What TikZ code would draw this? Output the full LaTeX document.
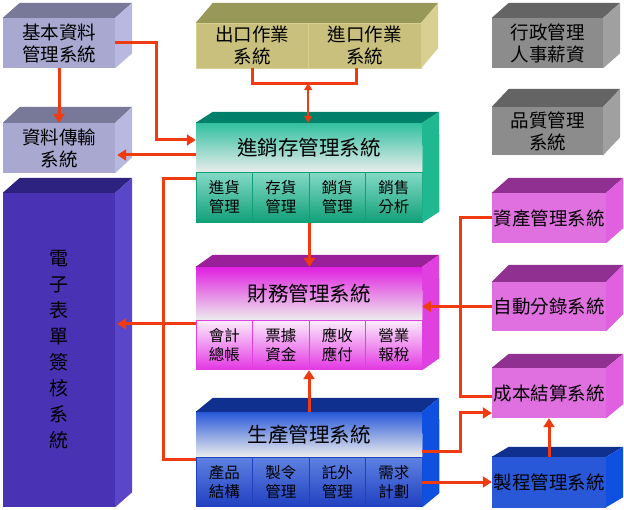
\documentclass[tikz,border=0pt]{standalone}
\usepackage{fontspec}
\setmainfont{Noto Sans CJK TC}
\usetikzlibrary{arrows.meta,calc}

\definecolor{linkred}{HTML}{F03A10}
\definecolor{lavfront}{HTML}{A8A8D0}
\definecolor{lavtop}{HTML}{787898}
\definecolor{lavside}{HTML}{B8B8E0}
\definecolor{khfront}{HTML}{C8C07C}
\definecolor{khtop}{HTML}{989858}
\definecolor{khside}{HTML}{D8D090}
\definecolor{gyfront}{HTML}{8C8C8C}
\definecolor{gytop}{HTML}{646464}
\definecolor{gyside}{HTML}{A0A0A0}
\definecolor{grmain}{HTML}{30C0A0}
\definecolor{grdark}{HTML}{10A078}
\definecolor{grtop}{HTML}{00806A}
\definecolor{grside}{HTML}{20B890}
\definecolor{mgmain}{HTML}{E020E0}
\definecolor{mgdark}{HTML}{D010D0}
\definecolor{mgtop}{HTML}{9A209A}
\definecolor{mgside}{HTML}{E040E0}
\definecolor{blmain}{HTML}{2858D8}
\definecolor{bldark}{HTML}{2040C0}
\definecolor{bltop}{HTML}{103090}
\definecolor{blside}{HTML}{1050E0}
\definecolor{pkmain}{HTML}{E070E0}
\definecolor{pktop}{HTML}{903090}
\definecolor{pkside}{HTML}{E060E0}
\definecolor{dzfront}{HTML}{4A32B4}
\definecolor{dztop}{HTML}{2E2280}
\definecolor{dzside}{HTML}{5A46C8}

\tikzset{
  block/.style={inner sep=0pt, align=center, text=black,
    font=\fontsize{18.5}{22}\selectfont},
  title/.style={block, minimum width=226pt, font=\fontsize{20.5}{24}\selectfont},
  cell/.style={block, minimum width=56.5pt, minimum height=49.5pt, line width=0.8pt,
    font=\fontsize{15.5}{19}\selectfont},
  link/.style={draw=linkred, line width=3pt},
  arr/.style={link, -{Triangle[length=9pt,width=11pt]}}
}

\begin{document}
\begin{tikzpicture}[x=1pt,y=-1pt]
  \useasboundingbox[fill=white] (0,0) rectangle (624,510);

  % left column
  \node[block, fill=lavfront, minimum width=112pt, minimum height=50pt] (jb) at (59,43) {基本資料\\管理系統};
  \node[block, fill=lavfront, minimum width=112pt, minimum height=50pt] (zl) at (59,148) {資料傳輸\\系統};
  \node[block, fill=dzfront, minimum width=112pt, minimum height=314pt,
        font=\fontsize{19}{26}\selectfont] (dz) at (59,350) {電\\子\\表\\單\\簽\\核\\系\\統};

  % top middle
  \node[block, fill=khfront, draw=khside, minimum width=112pt, minimum height=45pt] (ck) at (252,45.5) {出口作業\\系統};
  \node[block, fill=khfront, draw=khside, minimum width=113pt, minimum height=45pt] (jk) at (364.5,45.5) {進口作業\\系統};

  % right column
  \node[block, fill=gyfront, minimum width=111pt, minimum height=50pt] (xz) at (547.5,43) {行政管理\\人事薪資};
  \node[block, fill=gyfront, minimum width=111pt, minimum height=48pt] (pz) at (547.5,131) {品質管理\\系統};
  \node[block, top color=pkmain, middle color=white, bottom color=pkmain, minimum width=114pt, minimum height=50pt] (zc) at (549,218) {資產管理系統};
  \node[block, top color=pkmain, middle color=white, bottom color=pkmain, minimum width=114pt, minimum height=49pt] (zd) at (549,306.5) {自動分錄系統};
  \node[block, top color=pkmain, middle color=white, bottom color=pkmain, minimum width=114pt, minimum height=50pt] (cb) at (549,393) {成本結算系統};
  \node[block, top color=blmain, middle color=white!85!blmain, bottom color=blmain, minimum width=114pt, minimum height=50pt] (zcg) at (549,482) {製程管理系統};

  % centre systems
  \node[title, top color=grmain, middle color=white, bottom color=black!7, minimum height=50pt] (jxc) at (309,148) {進銷存管理系統};
  \foreach \i/\txt in {1/{進貨\\管理},2/{存貨\\管理},3/{銷貨\\管理},4/{銷售\\分析}}
    \node[cell, draw=grdark, top color=grmain!60, middle color=grmain!8, bottom color=grdark] (j\i) at ({196+56.5*(\i-0.5)},197.5) {\txt};

  \node[title, top color=mgmain, middle color=white, bottom color=black!7, minimum height=53pt] (cw) at (309,293.5) {財務管理系統};
  \foreach \i/\txt in {1/{會計\\總帳},2/{票據\\資金},3/{應收\\應付},4/{營業\\報稅}}
    \node[cell, draw=mgside, top color=mgmain!8, middle color=mgmain!22, bottom color=mgmain!90] (c\i) at ({196+56.5*(\i-0.5)},345) {\txt};

  \node[title, top color=blmain, middle color=white, bottom color=black!7, minimum height=45pt] (sc) at (309,434.5) {生產管理系統};
  \foreach \i/\txt in {1/{產品\\結構},2/{製令\\管理},3/{託外\\管理},4/{需求\\計劃}}
    \node[cell, draw=bldark, top color=blmain!75, middle color=blmain!12, bottom color=bldark] (s\i) at ({196+56.5*(\i-0.5)},482) {\txt};

  % top and side faces
  \foreach \a/\b/\c/\d/\tc/\sc in {jb/jb/jb/15/lavtop/lavside, zl/zl/zl/16/lavtop/lavside,
      dz/dz/dz/15/dztop/dzside, ck/jk/jk/20/khtop/khside,
      xz/xz/xz/15/gytop/gyside, pz/pz/pz/18/gytop/gyside,
      zc/zc/zc/15/pktop/pkside, zd/zd/zd/17/pktop/pkside,
      cb/cb/cb/14/pktop/pkside, zcg/zcg/zcg/10/bltop/blside,
      jxc/jxc/j4/11/grtop/grside, cw/cw/c4/12/mgtop/mgside, sc/sc/s4/14/bltop/blside}
  {
    \fill[\tc] (\a.north west) -- ++(17,-\d) -- ($(\b.north east)+(17,-\d)$) -- (\b.north east) -- cycle;
    \fill[\sc] (\b.north east) -- ++(17,-\d) -- ($(\c.south east)+(17,-\d)$) -- (\c.south east) -- cycle;
  }

  % connectors
  \draw[arr] (jb.south) -- (zl.north);
  \draw[arr] (jb.east) -- ++(41,0) |- ($(jxc.west)+(0,-8)$);
  \draw[arr] ($(jxc.west)+(0,7)$) -- ($(zl.east)+(2,7)$);

  \draw[link] (ck.south) -- ++(0,15) coordinate (io) -| ($(jk.south)+(-8,0)$);
  \draw[link, line width=2pt, {Triangle[length=7pt,width=8pt]}-{Triangle[length=7pt,width=8pt]}]
    (io -| ck.south east) -- (jxc.north -| ck.south east);

  \draw[arr] (j2.south east) -- (j2.south east |- cw.north);
  \draw[arr] (sc.north) -- (sc.north |- c2.south);

  \draw[link] ($(j1.north west)+(0,6)$) -- ++(-32,0) |- ($(s1.north west)+(0,3)$);
  \draw[arr] ($(c1.north west)+(0,4)$) coordinate (bus) -- ($(bus -| dz.east)+(2,0)$);

  \draw[arr] (zd.west) -- (zd.west -| cw.east);
  \draw[link] (zc.west) -- ++(-31,0) |- ($(cb.west)+(0,4)$);
  \draw[arr] ($(sc.south east)+(0,-6)$) -- ++(38,0) |- ($(cb.west)+(0,20)$);
  \draw[arr] (s4.east) -- (s4.east -| zcg.west);
  \draw[arr] (zcg.north) -- (cb.south);
\end{tikzpicture}
\end{document}
